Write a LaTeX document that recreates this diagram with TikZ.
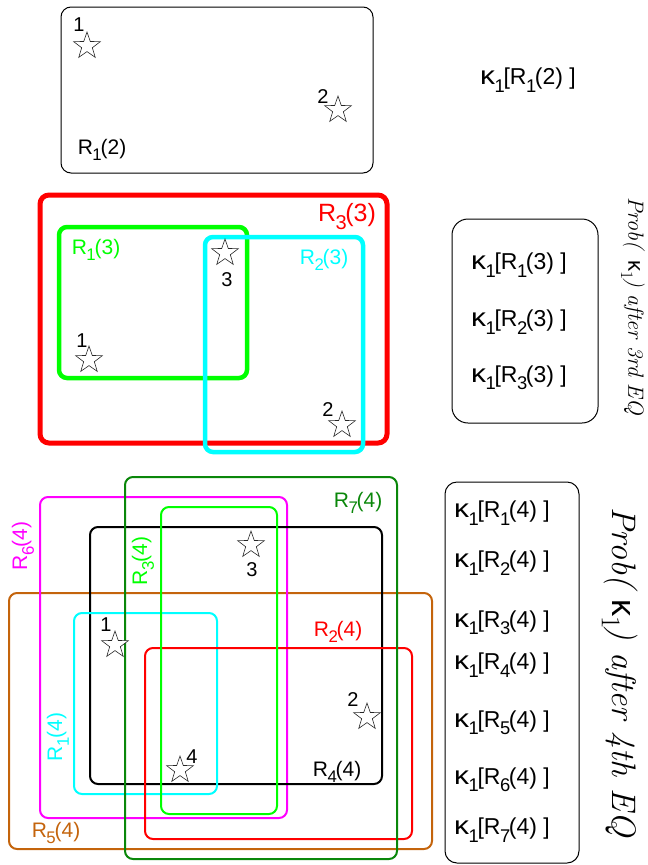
\documentclass[tikz,border=0pt]{standalone}
\usepackage{fontspec}
\newfontfamily\sans{Liberation Sans}
\usetikzlibrary{shapes.geometric}
\definecolor{vgreen}{RGB}{0,255,0}
\definecolor{vcyan}{RGB}{0,255,255}
\definecolor{dgreen}{RGB}{10,135,10}
\definecolor{vmagenta}{RGB}{255,0,255}
\definecolor{rust}{RGB}{196,100,12}
% lowered, tight subscript
\newcommand\ix[1]{\kern-0.02em\raisebox{-0.32em}{\scalebox{0.8}{#1}}\kern-0.06em}
% wide kappa
\newcommand\kp{\scalebox{1.3}[1.12]{\sans κ}}
\begin{document}
\begin{tikzpicture}[x=1pt,y=-1pt,
  pt/.style={star,star points=5,star point ratio=2.5,minimum size=28pt,inner sep=0pt,
    draw=black!85,fill=white,line width=0.6pt},
  num/.style={inner sep=0pt,font=\sans\fontsize{20}{20}\selectfont},
  lab/.style={inner sep=0pt,font=\sans\fontsize{21}{21}\selectfont},
  klab/.style={inner sep=0pt,font=\sans\fontsize{23}{23}\selectfont},
  frame/.style={draw=black,line width=1pt},
  thick region/.style={line width=4.5pt,rounded corners=8pt},
  thin region/.style={line width=2pt,rounded corners=8pt},
  side/.style={inner sep=0pt,rotate=-90,font=\itshape}
]
\useasboundingbox (0,0) rectangle (648,865);

% ---- two events
\draw[frame,rounded corners=10pt] (61,7) rectangle (373,173);
\node[pt] (a1) at (87,46) {};
\node[num] (a1n) at (79,25) {1};
\node[pt] (a2) at (338,110) {};
\node[num] (a2n) at (323,97) {2};
\node[lab] (aR) at (102,150) {R\ix{1}(2)};
\node[klab] (aK) at (528,80) {\kp\ix{1}[R\ix{1}(2) ]};

% ---- three events
\draw[thick region,red,line width=5pt,rounded corners=9pt] (40,195) rectangle (387,443);
\draw[thick region,vgreen] (59,227) rectangle (247,378);
\draw[thick region,vcyan] (205,237) rectangle (363,452);
\node[lab,red,font=\sans\fontsize{25}{25}\selectfont] (bR3) at (347,217) {R\ix{3}(3)};
\node[lab,vgreen] (bR1) at (96,250) {R\ix{1}(3)};
\node[lab,vcyan] (bR2) at (324,260) {R\ix{2}(3)};
\node[pt] (b3) at (225,253) {};
\node[num] (b3n) at (227,280) {3};
\node[pt] (b1) at (89,360) {};
\node[num] (b1n) at (82,341) {1};
\node[pt] (b2) at (342,425) {};
\node[num] (b2n) at (328,410) {2};

\draw[frame,rounded corners=16pt] (452,219) rectangle (598,423);
\node[klab] (bK1) at (519,265) {\kp\ix{1}[R\ix{1}(3) ]};
\node[klab] (bK2) at (519,322) {\kp\ix{1}[R\ix{2}(3) ]};
\node[klab] (bK3) at (519,378) {\kp\ix{1}[R\ix{3}(3) ]};
\node[side,font=\itshape\fontsize{22}{22}\selectfont] (bS) at (633,306)
  {Prob(\, {\upshape\sans κ}\ix{\upshape 1}) after 3rd EQ};

% ---- four events
\draw[thin region,rust] (9,593) rectangle (432,849);
\draw[thin region,vmagenta] (40,497) rectangle (287,818);
\draw[thin region,black] (90,527) rectangle (382,784);
\draw[thin region,vcyan] (74,613) rectangle (217,794);
\draw[thin region,red] (145,648) rectangle (412,839);
\draw[thin region,vgreen] (161,507) rectangle (277,814);
\draw[thin region,dgreen] (125,477) rectangle (397,859);

\node[lab,dgreen] (cR7) at (358,503) {R\ix{7}(4)};
\node[lab,vmagenta,rotate=90] (cR6) at (23,546) {R\ix{6}(4)};
\node[lab,vgreen,rotate=90] (cR3) at (143,561) {R\ix{3}(4)};
\node[lab,red] (cR2) at (338,632) {R\ix{2}(4)};
\node[lab,black] (cR4) at (337,772) {R\ix{4}(4)};
\node[lab,vcyan,rotate=90] (cR1) at (58,737) {R\ix{1}(4)};
\node[lab,rust] (cR5) at (56,833) {R\ix{5}(4)};

\node[pt] (c3) at (251,545) {};
\node[num] (c3n) at (252,570) {3};
\node[pt] (c1) at (115,645) {};
\node[num] (c1n) at (106,625) {1};
\node[pt] (c2) at (367,717) {};
\node[num] (c2n) at (353,700) {2};
\node[pt] (c4) at (180,770) {};
\node[num] (c4n) at (192,757) {4};

\draw[frame,rounded corners=12pt] (445,482) rectangle (579,863);
\node[klab] (cK1) at (502,513) {\kp\ix{1}[R\ix{1}(4) ]};
\node[klab] (cK2) at (502,563) {\kp\ix{1}[R\ix{2}(4) ]};
\node[klab] (cK3) at (502,623) {\kp\ix{1}[R\ix{3}(4) ]};
\node[klab] (cK4) at (502,665) {\kp\ix{1}[R\ix{4}(4) ]};
\node[klab] (cK5) at (502,723) {\kp\ix{1}[R\ix{5}(4) ]};
\node[klab] (cK6) at (502,780) {\kp\ix{1}[R\ix{6}(4) ]};
\node[klab] (cK7) at (502,830) {\kp\ix{1}[R\ix{7}(4) ]};
\node[side,font=\itshape\fontsize{34}{34}\selectfont] (cS) at (620,672)
  {Prob( {\upshape\sans κ}\ix{\upshape 1}) after 4th EQ};
\end{tikzpicture}
\end{document}
